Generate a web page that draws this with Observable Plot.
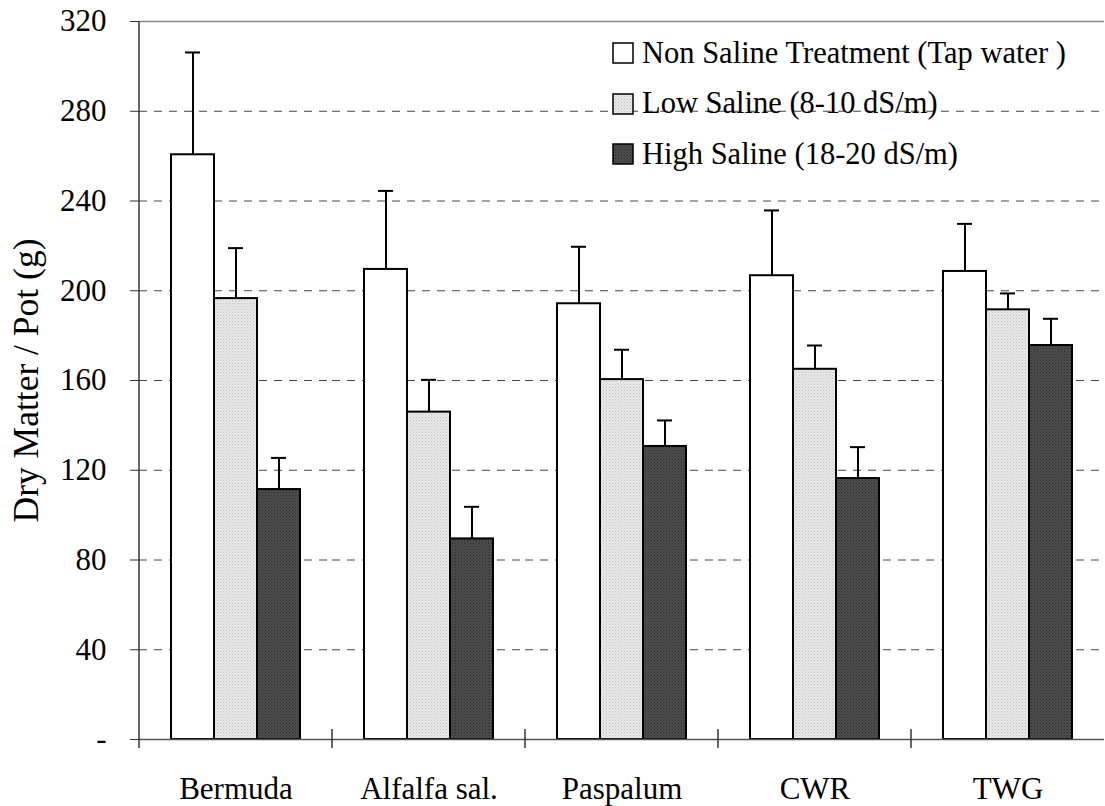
<!DOCTYPE html>
<html><head><meta charset="utf-8">
<script src="https://cdn.jsdelivr.net/npm/d3@7"></script>
<script src="https://cdn.jsdelivr.net/npm/@observablehq/plot@0.6"></script>
<style>
body{margin:0;background:#fff;}
#wrap{position:relative;width:1105px;height:806px;font-family:"Liberation Serif","Times New Roman",serif;}
#wrap svg text{font-family:"Liberation Serif","Times New Roman",serif;}
.legend{position:absolute;left:612px;top:28px;font-size:30.5px;color:#000;font-family:"Liberation Serif","Times New Roman",serif;}
.legend span{font-family:"Liberation Serif","Times New Roman",serif;}
.row{display:flex;align-items:center;height:50.5px;white-space:nowrap;}
.row svg{margin-right:8px;}
</style></head><body>
<svg width="0" height="0" style="position:absolute"><defs>
<pattern id="pLight" width="3" height="3" patternUnits="userSpaceOnUse"><rect width="3" height="3" fill="#e8e8e8"/><rect width="1" height="1" fill="#c2c2c2"/><rect x="1.5" y="1.5" width="1" height="1" fill="#d0d0d0"/></pattern>
<pattern id="pDark" width="3" height="3" patternUnits="userSpaceOnUse"><rect width="3" height="3" fill="#4e4e4e"/><rect width="1" height="1" fill="#2a2a2a"/><rect x="1.5" y="1.5" width="1" height="1" fill="#333"/></pattern>
</defs></svg>
<div id="wrap"><div class="legend" id="legend"></div></div>
<script>
const categories = ["Bermuda", "Alfalfa sal.", "Paspalum", "CWR", "TWG"];
const series = ["Non Saline Treatment (Tap water )", "Low Saline (8-10 dS/m)", "High Saline (18-20 dS/m)"];
const nonSaline = [260.6, 209.5, 194.2, 206.7, 208.6];
const nonSalineErr = [45.6, 35.0, 25.4, 29.1, 21.2];
const lowSaline = [196.5, 145.9, 160.4, 165.0, 191.5];
const lowSalineErr = [22.5, 14.4, 13.3, 10.6, 7.3];
const highSaline = [111.4, 89.4, 130.6, 116.3, 175.6];
const highSalineErr = [14.1, 14.3, 11.6, 14.0, 11.9];
const yTicks = [0, 40, 80, 120, 160, 200, 240, 280, 320];
const fills = ["#ffffff", "url(#pLight)", "url(#pDark)"];

const values = [nonSaline, lowSaline, highSaline];
const errs = [nonSalineErr, lowSalineErr, highSalineErr];
const data = [];
categories.forEach((c, i) => series.forEach((s, j) => {
  data.push({category: c, series: s, value: values[j][i], top: values[j][i] + errs[j][i]});
}));

const W = 1105, H = 806;
const chart = Plot.plot({
  width: W, height: H,
  marginLeft: 138, marginRight: 0, marginTop: 21, marginBottom: 67,
  style: {fontFamily: '"Liberation Serif","Times New Roman",serif', fontSize: "31px", color: "#000", background: "#fff", overflow: "visible"},
  fx: {domain: categories, padding: 0},
  x: {domain: series, paddingInner: 0, paddingOuter: 0.733, axis: null},
  y: {domain: [0, 320]},
  marks: [
    Plot.ruleY(yTicks.filter(t => t > 0 && t < 320), {stroke: "#444", strokeWidth: 1, strokeDasharray: "8,7"}),
    Plot.ruleY([320], {stroke: "#888", strokeWidth: 1.5}),
    ...series.map((s, j) => Plot.barY(data, {filter: d => d.series === s, fx: "category", x: "series", y: "value", fill: fills[j], stroke: "#000", strokeWidth: 2})),
    Plot.ruleX(data, {fx: "category", x: "series", y1: "value", y2: "top", stroke: "#000", strokeWidth: 2}),
    Plot.tickY(data, {fx: "category", x: "series", y: "top", stroke: "#000", strokeWidth: 2, insetLeft: 14, insetRight: 14}),
    Plot.ruleY([0], {stroke: "#555", strokeWidth: 1.5}),
    Plot.axisY({ticks: yTicks, tickFormat: d => d === 0 ? "-" : String(d), tickSize: 9, tickPadding: 24, stroke: "#333", label: "Dry Matter / Pot (g)", labelAnchor: "center", labelArrow: "none", labelOffset: 127}),
    Plot.axisFx({anchor: "bottom", tickSize: 0, tickPadding: 37, label: null})
  ]
});
document.getElementById("wrap").prepend(chart);

const svg = d3.select(chart);
svg.selectAll('[aria-label="y-axis label"] text, [aria-label="y-axis label"]').attr("font-size", 35.5);

// axis decorations positioned through the library's scales
const fx = chart.scale("fx"), y = chart.scale("y");
const g = svg.append("g").attr("stroke", "#333").attr("stroke-width", 1.5);
const y0 = y.apply(0), yTop = y.apply(320);
const left = fx.apply(categories[0]);
g.append("line").attr("x1", left).attr("x2", left).attr("y1", yTop).attr("y2", y0 + 9);
categories.slice(1).forEach(c => {
  const xb = fx.apply(c);
  g.append("line").attr("x1", xb).attr("x2", xb).attr("y1", y0 - 10).attr("y2", y0 + 9);
});

// legend
const leg = document.getElementById("legend");
series.forEach((s, j) => {
  const row = document.createElement("div");
  row.className = "row";
  row.innerHTML = `<svg width="22" height="22"><rect x="1" y="1" width="20" height="20" fill="${fills[j]}" stroke="#000" stroke-width="1.5"/></svg><span>${s}</span>`;
  leg.appendChild(row);
});
</script>
</body></html>
